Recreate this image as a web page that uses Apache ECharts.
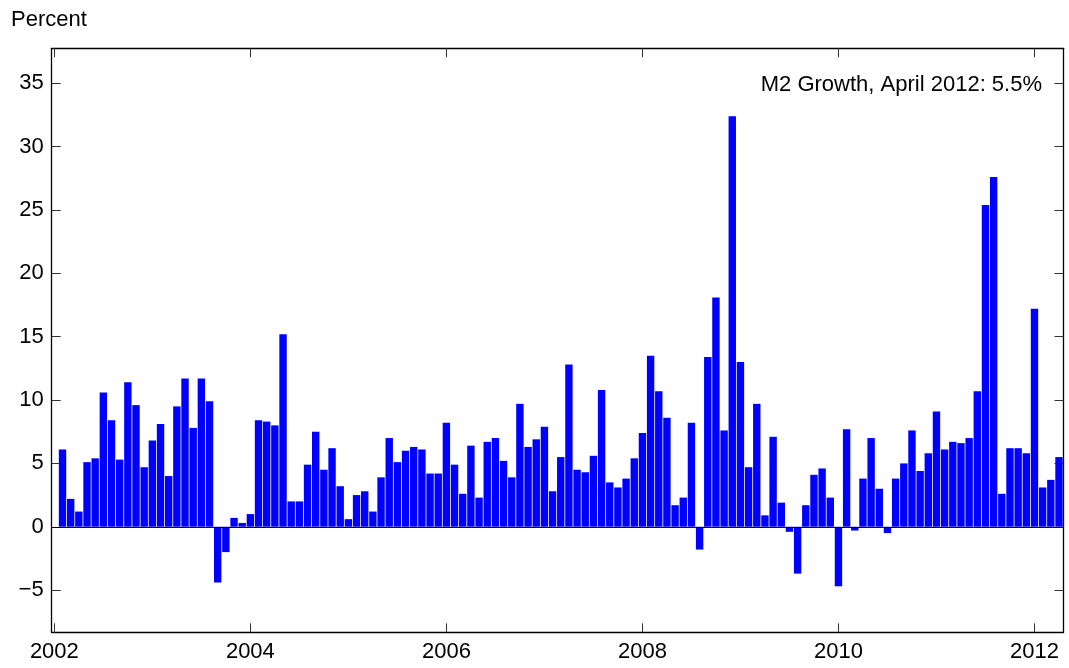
<!DOCTYPE html>
<html>
<head>
<meta charset="utf-8">
<script src="https://cdn.jsdelivr.net/npm/echarts@6/dist/echarts.min.js"></script>
<style>
html,body{margin:0;padding:0;background:#fff;}
#chart{width:1069px;height:668px;}
</style>
</head>
<body>
<div id="chart"></div>
<script>
// Monthly M2 growth (percent, annualized), first bar = January 2002
var startYear = 2002;
var startMonth = 1;
var m2Growth = [
  6.1, 2.2, 1.2, 5.1, 5.4, 10.6, 8.4, 5.3, 11.4, 9.6, 4.7, 6.8,
  8.1, 4.0, 9.5, 11.7, 7.8, 11.7, 9.9, -4.4, -2.0, 0.7, 0.3, 1.0,
  8.4, 8.3, 8.0, 15.2, 2.0, 2.0, 4.9, 7.5, 4.5, 6.2, 3.2, 0.6,
  2.5, 2.8, 1.2, 3.9, 7.0, 5.1, 6.0, 6.3, 6.1, 4.2, 4.2, 8.2,
  4.9, 2.6, 6.4, 2.3, 6.7, 7.0, 5.2, 3.9, 9.7, 6.3, 6.9, 7.9,
  2.8, 5.5, 12.8, 4.5, 4.3, 5.6, 10.8, 3.5, 3.1, 3.8, 5.4, 7.4,
  13.5, 10.7, 8.6, 1.7, 2.3, 8.2, -1.8, 13.4, 18.1, 7.6, 32.4, 13.0,
  4.7, 9.7, 0.9, 7.1, 1.9, -0.4, -3.7, 1.7, 4.1, 4.6, 2.3, -4.7,
  7.7, -0.3, 3.8, 7.0, 3.0, -0.5, 3.8, 5.0, 7.6, 4.4, 5.8, 9.1,
  6.1, 6.7, 6.6, 7.0, 10.7, 25.4, 27.6, 2.6, 6.2, 6.2, 5.8, 17.2,
  3.1, 3.7, 5.5
];
var xTickYears = [2002, 2004, 2006, 2008, 2010, 2012];
var yTickValues = [-5, 0, 5, 10, 15, 20, 25, 30, 35];
var yAxisTitle = 'Percent';
var annotationText = 'M2 Growth, April 2012: 5.5%';

// month-end date position as fractional year
var barData = m2Growth.map(function (v, i) {
  var monthIndex = (startMonth - 1) + i + 1;
  return [startYear + monthIndex / 12, v];
});

var FONT = 'Liberation Sans, Arial, Helvetica, sans-serif';
var xMin = 2001.973, xMax = 2012.296;
var yMin = -8.33, yMax = 37.76;

var chart = echarts.init(document.getElementById('chart'), null, {renderer: 'canvas'});

function fmtNum(v) { return String(v).replace('-', '\u2212'); }

var tickStyle = {color: '#333', width: 1};
var frameLine = {show: true, onZero: false, lineStyle: {color: '#000', width: 1.3}};

chart.setOption({
  animation: false,
  backgroundColor: '#fff',
  grid: {left: 51.7, right: 5.5, top: 48.3, bottom: 35.7, containLabel: false},
  xAxis: [{
    type: 'value', min: xMin, max: xMax, position: 'bottom',
    axisLine: frameLine,
    axisTick: {show: true, inside: true, length: 9, lineStyle: tickStyle, customValues: xTickYears},
    axisLabel: {show: true, customValues: xTickYears, margin: 9, color: '#000',
      fontFamily: FONT, fontSize: 22, formatter: function (v) { return String(Math.round(v)); }},
    splitLine: {show: false}
  }, {
    type: 'value', min: xMin, max: xMax, position: 'top',
    axisLine: frameLine,
    axisTick: {show: true, inside: true, length: 9, lineStyle: tickStyle, customValues: xTickYears},
    axisLabel: {show: false},
    splitLine: {show: false}
  }],
  yAxis: [{
    type: 'value', min: yMin, max: yMax, position: 'left',
    axisLine: frameLine,
    axisTick: {show: true, inside: true, length: 9, lineStyle: tickStyle, customValues: yTickValues},
    axisLabel: {show: true, customValues: yTickValues, margin: 8, color: '#000',
      fontFamily: FONT, fontSize: 22, formatter: function (v) { return fmtNum(Math.round(v)); }},
    splitLine: {show: false}
  }, {
    type: 'value', min: yMin, max: yMax, position: 'right',
    axisLine: frameLine,
    axisTick: {show: true, inside: true, length: 9, lineStyle: tickStyle, customValues: yTickValues},
    axisLabel: {show: false},
    splitLine: {show: false}
  }],
  series: [{
    type: 'bar',
    xAxisIndex: 0, yAxisIndex: 0,
    data: barData,
    barWidth: 7.4,
    itemStyle: {color: '#0000FF'},
    markLine: {
      silent: true, symbol: 'none', label: {show: false},
      lineStyle: {color: '#000', width: 1.2, type: 'solid'},
      data: [{yAxis: 0}]
    }
  }],
  graphic: [{
    type: 'text', left: 11, top: 9,
    style: {text: yAxisTitle, fontFamily: FONT, fontSize: 22, fill: '#000'}
  }, {
    type: 'text', right: 27, top: 74,
    style: {text: annotationText, fontFamily: FONT, fontSize: 22, fill: '#000', align: 'right'}
  }]
});
</script>
</body>
</html>
